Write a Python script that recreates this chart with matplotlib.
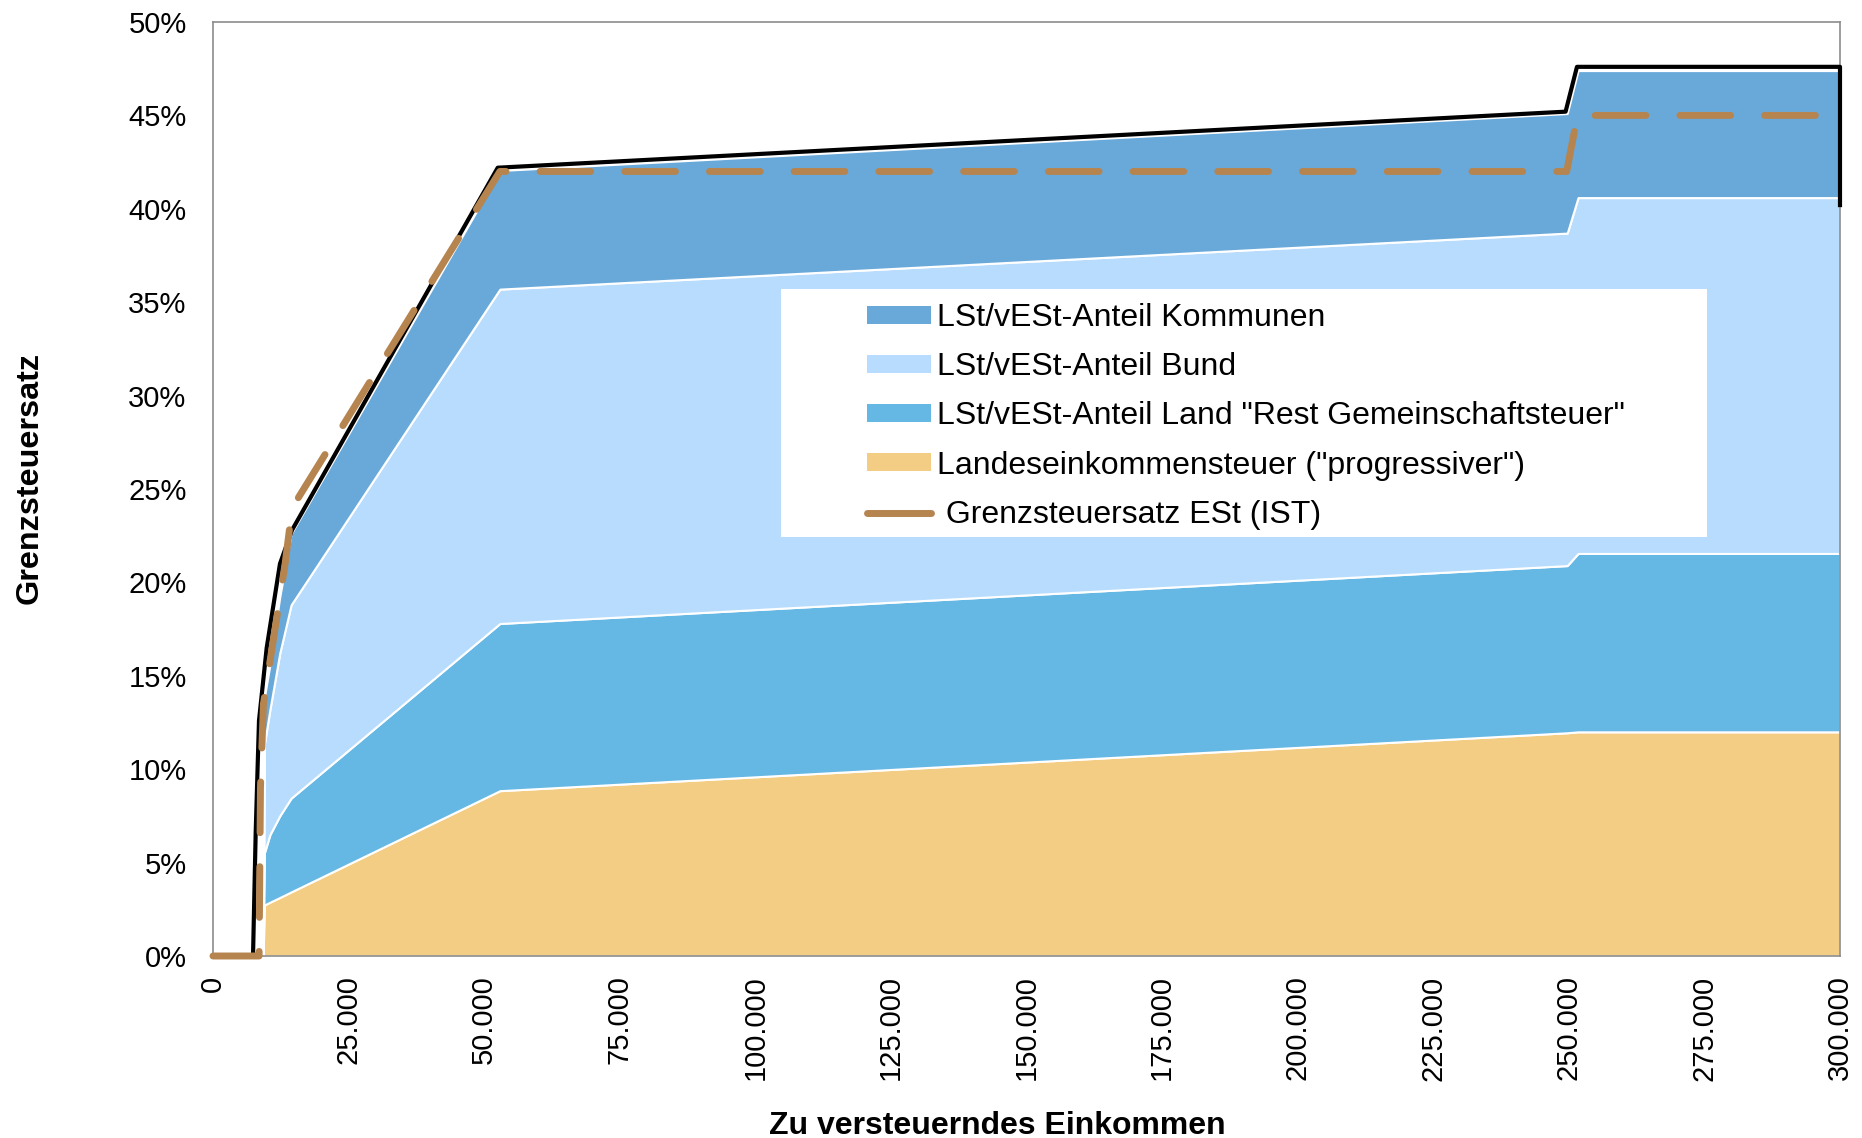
import numpy as np
import matplotlib
matplotlib.use("Agg")
import matplotlib.pyplot as plt
from matplotlib.patches import Patch, Rectangle
from matplotlib.lines import Line2D

plt.rcParams['font.family'] = ['Liberation Sans', 'DejaVu Sans']

# income grid of the stacked areas (EUR)
income = [9250, 9450, 10500, 12300, 14400, 52900, 249700, 251700, 300000]

# shares of the marginal rate in percent points (stacked bottom -> top)
landes_est = [0, 2.73, 2.88, 3.13, 3.43, 8.85, 11.95, 12.0, 12.0]
anteil_land = [0, 2.77, 3.62, 4.37, 5.02, 8.95, 8.95, 9.55, 9.55]
anteil_bund = [0, 5.8, 6.7, 8.7, 10.35, 17.9, 17.8, 19.05, 19.05]
anteil_kommunen = [0, 2.5, 2.4, 3.0, 3.8, 6.35, 6.4, 6.8, 6.8]

# black outline (sum)
sum_x = [0, 7380, 7870, 8480, 9900, 12350, 14570, 52500, 249400, 251500, 300000, 300000]
sum_y = [0, 0, 6.6, 12.6, 16.5, 21.0, 22.8, 42.2, 45.2, 47.6, 47.6, 40.2]

# Grenzsteuersatz ESt (IST)
ist_x = [0, 8500, 8750, 9300, 10900, 13300, 14600, 52900, 249600, 251600, 300000]
ist_y = [0, 0, 9.0, 13.5, 16.5, 21.0, 24.0, 42.0, 42.0, 45.0, 45.0]

labels = ['Landeseinkommensteuer ("progressiver")',
          'LSt/vESt-Anteil Land "Rest Gemeinschaftsteuer"',
          'LSt/vESt-Anteil Bund',
          'LSt/vESt-Anteil Kommunen']
colors = ['#F3CD84', '#65B7E4', '#B8DCFD', '#69A9DA']
ist_label = ' Grenzsteuersatz ESt (IST)'
brown = '#B5844F'

xticks = np.arange(0, 300001, 25000)
xticklabels = ['0', '25.000', '50.000', '75.000', '100.000', '125.000', '150.000',
               '175.000', '200.000', '225.000', '250.000', '275.000', '300.000']
yticks = np.arange(0, 0.501, 0.05)
yticklabels = ['0%', '5%', '10%', '15%', '20%', '25%', '30%', '35%', '40%', '45%', '50%']

fig = plt.figure(figsize=(18.62, 11.38), dpi=100)
ax = fig.add_axes([213/1862, 182/1138, 1627/1862, 934/1138])

ys = [np.array(s) / 100 for s in (landes_est, anteil_land, anteil_bund, anteil_kommunen)]
ax.stackplot(income, *ys, colors=colors, edgecolor='white', linewidth=1.5, zorder=2)

ax.plot(sum_x, np.array(sum_y) / 100, color='black', lw=3.0, zorder=3,
        clip_on=False, solid_joinstyle='round')
ax.plot(ist_x, np.array(ist_y) / 100, color=brown, lw=5, zorder=4, clip_on=False,
        dashes=(7.3, 4.9), dash_capstyle='round', dash_joinstyle='round')

ax.set_xlim(0, 300000)
ax.set_ylim(0, 0.5)
ax.set_xticks(xticks)
ax.set_xticklabels(xticklabels, rotation=90, va='top', fontsize=21)
ax.set_yticks(yticks)
ax.set_yticklabels(yticklabels, fontsize=21)
ax.tick_params(axis='both', length=0)
ax.tick_params(axis='y', pad=19)
ax.tick_params(axis='x', pad=14)
for sp in ax.spines.values():
    sp.set_color('#8C8C8C')
    sp.set_linewidth(1.2)

fig.text(30/1862, 1 - 478/1138, 'Grenzsteuersatz', rotation=90, fontsize=23.3,
         fontweight='bold', ha='center', va='center')
fig.text(997/1862, 1 - 1126/1138, 'Zu versteuerndes Einkommen', fontsize=23,
         fontweight='bold', ha='center', va='center')

# legend background box
ax.add_patch(Rectangle((0.349, 0.4486), 0.569, 0.2655, transform=ax.transAxes,
                       facecolor='white', edgecolor='none', zorder=5))
handles = [Patch(facecolor=colors[3]), Patch(facecolor=colors[2]),
           Patch(facecolor=colors[1]), Patch(facecolor=colors[0]),
           Line2D([0], [0], color=brown, lw=5, solid_capstyle='round')]
leg_labels = [labels[3], labels[2], labels[1], labels[0], ist_label]
leg = ax.legend(handles, leg_labels, loc='upper left', bbox_to_anchor=(0.402, 0.699),
                frameon=False, fontsize=23, borderpad=0, borderaxespad=0,
                handlelength=2.0, handleheight=0.5, handletextpad=0.2,
                labelspacing=0.6)
leg.set_zorder(6)

fig.savefig('out.png', dpi=100)
